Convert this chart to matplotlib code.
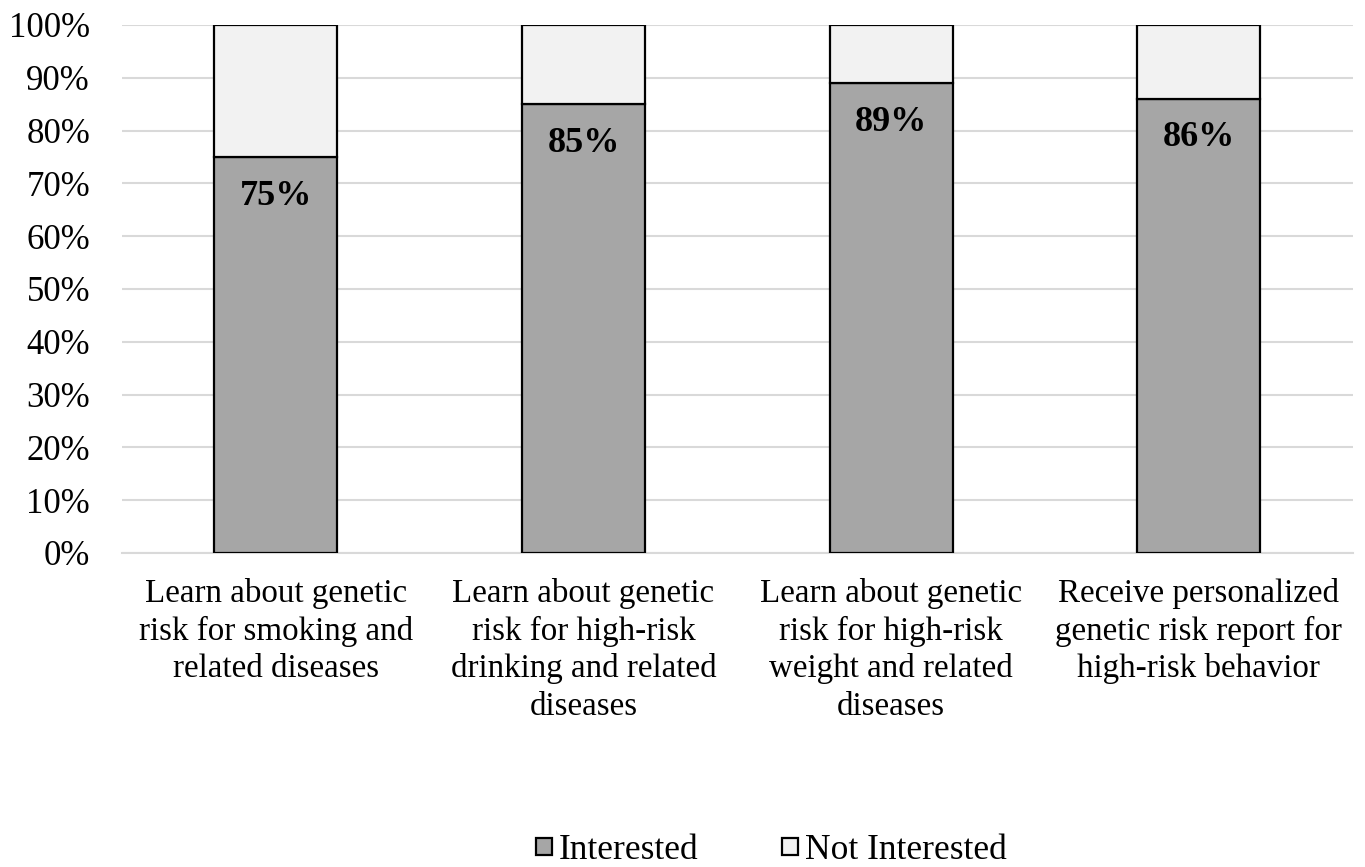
import numpy as np
import matplotlib.pyplot as plt

categories = [
    "Learn about genetic\nrisk for smoking and\nrelated diseases",
    "Learn about genetic\nrisk for high-risk\ndrinking and related\ndiseases",
    "Learn about genetic\nrisk for high-risk\nweight and related\ndiseases",
    "Receive personalized\ngenetic risk report for\nhigh-risk behavior",
]
interested = [75, 85, 89, 86]
not_interested = [25, 15, 11, 14]

plt.rcParams['font.family'] = ['Liberation Serif', 'DejaVu Serif']

fig = plt.figure(figsize=(13.65, 8.67), dpi=100)
ax = fig.add_axes([0.0894, 0.3622, 0.9016, 0.609])

x = np.arange(len(categories))
w = 0.4
ax.bar(x, interested, w, color='#a6a6a6', edgecolor='black', linewidth=1.6,
       label='Interested', zorder=3)
ax.bar(x, not_interested, w, bottom=interested, color='#f2f2f2',
       edgecolor='black', linewidth=1.6, label='Not Interested', zorder=3)

# value labels inside the top of the grey segment
for xi, v in zip(x, interested):
    ax.text(xi, v - 7.4, f"{v}%", ha='center', va='center', fontsize=26,
            fontweight='bold', zorder=4)

ax.set_xlim(-0.5, len(categories) - 0.5)
ax.set_ylim(0, 100)
ax.set_yticks(np.arange(0, 101, 10))
ax.set_yticklabels([f"{t}%" for t in range(0, 101, 10)], fontsize=25)
ax.set_xticks(x)
ax.set_xticklabels(categories, fontsize=23.8, linespacing=1.28, va='top')
ax.tick_params(axis='y', length=0, pad=23)
ax.tick_params(axis='x', length=0, pad=18)
ax.yaxis.grid(True, color='#d9d9d9', linewidth=1.5, zorder=0)
for s in ['top', 'right', 'left']:
    ax.spines[s].set_visible(False)
ax.spines['bottom'].set_color('#d9d9d9')
ax.spines['bottom'].set_linewidth(1.5)

fig.legend(loc='center', bbox_to_anchor=(0.565, 0.019), ncol=2, frameon=False,
           fontsize=25.5, handlelength=0.45, handleheight=0.36,
           handletextpad=0.2, columnspacing=2.35)

fig.savefig('out.png', dpi=100)
